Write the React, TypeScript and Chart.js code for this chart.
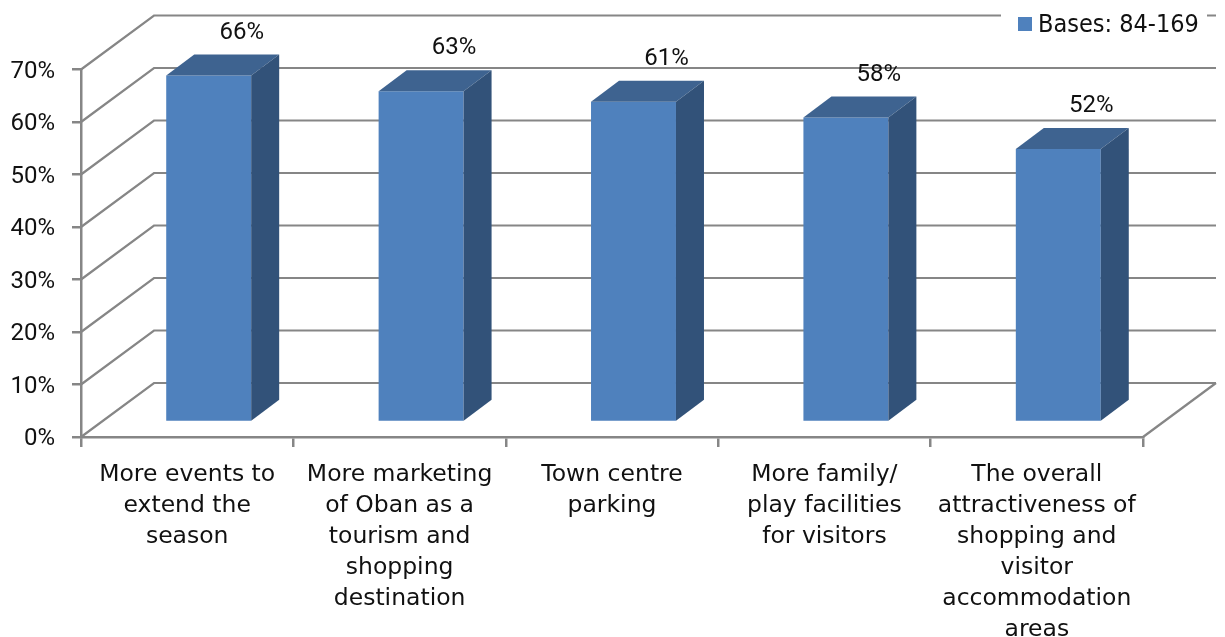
import React, { useEffect, useRef } from "react";
import { Chart, registerables } from "chart.js";

Chart.register(...registerables);

const categories: string[][] = [
  ["More events to", "extend the", "season"],
  ["More marketing", "of Oban as a", "tourism and", "shopping", "destination"],
  ["Town centre", "parking"],
  ["More family/", "play facilities", "for visitors"],
  ["The overall", "attractiveness of", "shopping and", "visitor", "accommodation", "areas"],
];
const shares: number[] = [66, 63, 61, 58, 52];
const seriesName = "Bases: 84-169";

const CATEGORY_FONT = '"DejaVu Sans", sans-serif';
const LEGEND_FONT = '"DejaVu Sans Condensed", "DejaVu Sans", sans-serif';
const NUMBER_FONT = 'Roboto, "DejaVu Sans", sans-serif';
const GRID = "#868686";
const FRONT = "#4f81bd";
const TOP = "#3e6390";
const SIDE = "#325279";
const INK = "#111111";

// Oblique offset of the back wall, and of a bar within the depth of the floor.
const WALL_DX = 73;
const WALL_DY = -54;
const BAR_DX = 21.5;
const BAR_DY = -15;
const BAR_DEPTH_DX = 28;
const BAR_DEPTH_DY = -21;

const obliquePlugin = {
  id: "oblique",
  afterUpdate(chart: any) {
    // Percent labels sit slightly below their tick marks
    chart.scales.y.getLabelItems().forEach((item: any) => {
      item.textOffset += 2;
    });
  },
  beforeDatasetsDraw(chart: any) {
    const { ctx, chartArea, scales } = chart;
    const { left, right, bottom } = chartArea;
    ctx.save();
    ctx.strokeStyle = GRID;
    ctx.lineWidth = 2.2;
    ctx.lineJoin = "miter";
    // Side wall slants and back wall rules, one per value tick
    for (const tick of scales.y.ticks) {
      const y = scales.y.getPixelForValue(tick.value);
      ctx.beginPath();
      ctx.moveTo(left, y);
      ctx.lineTo(left + WALL_DX, y + WALL_DY);
      ctx.lineTo(right + WALL_DX, y + WALL_DY);
      ctx.stroke();
    }
    // Right-hand edge of the floor
    ctx.beginPath();
    ctx.moveTo(right, bottom);
    ctx.lineTo(right + WALL_DX, bottom + WALL_DY);
    ctx.stroke();
    ctx.restore();

    // Bars stand part way back on the floor
    ctx.save();
    ctx.translate(BAR_DX, BAR_DY);
  },
  afterDatasetsDraw(chart: any) {
    const { ctx } = chart;
    const bars = chart.getDatasetMeta(0).data;
    bars.forEach((bar: any, i: number) => {
      const { x, y, base, width } = bar.getProps(["x", "y", "base", "width"], true);
      const l = x - width / 2;
      const r = x + width / 2;
      // Top face
      ctx.fillStyle = TOP;
      ctx.beginPath();
      ctx.moveTo(l, y);
      ctx.lineTo(l + BAR_DEPTH_DX, y + BAR_DEPTH_DY);
      ctx.lineTo(r + BAR_DEPTH_DX, y + BAR_DEPTH_DY);
      ctx.lineTo(r, y);
      ctx.closePath();
      ctx.fill();
      // Side face
      ctx.fillStyle = SIDE;
      ctx.beginPath();
      ctx.moveTo(r, y);
      ctx.lineTo(r + BAR_DEPTH_DX, y + BAR_DEPTH_DY);
      ctx.lineTo(r + BAR_DEPTH_DX, base + BAR_DEPTH_DY);
      ctx.lineTo(r, base);
      ctx.closePath();
      ctx.fill();
      // Value label above the bar
      ctx.fillStyle = INK;
      ctx.font = `24px ${NUMBER_FONT}`;
      ctx.textAlign = "center";
      ctx.textBaseline = "middle";
      ctx.fillText(`${shares[i]}%`, x + 33, y - 43);
    });
    ctx.restore();
  },
  afterDraw(chart: any) {
    const { ctx } = chart;
    ctx.save();
    // Legend box sits on top of the uppermost rule
    ctx.fillStyle = "#ffffff";
    ctx.fillRect(1001, 5, 206, 34);
    ctx.fillStyle = FRONT;
    ctx.fillRect(1018, 17, 14, 14);
    ctx.fillStyle = INK;
    ctx.font = `25px ${LEGEND_FONT}`;
    ctx.textAlign = "left";
    ctx.textBaseline = "middle";
    ctx.fillText(chart.data.datasets[0].label, 1038, 25);
    ctx.restore();
  },
};

export default function App() {
  const ref = useRef<HTMLCanvasElement>(null);

  useEffect(() => {
    const chart = new Chart(ref.current!, {
      type: "bar",
      data: {
        labels: categories,
        datasets: [
          {
            label: seriesName,
            data: shares,
            backgroundColor: FRONT,
            barPercentage: 0.4,
            categoryPercentage: 1,
            clip: false,
          } as any,
        ],
      },
      options: {
        responsive: false,
        animation: false,
        layout: { padding: { top: 69.5, right: 82, left: 0, bottom: 0 } },
        plugins: { legend: { display: false }, tooltip: { enabled: false } },
        scales: {
          x: {
            afterFit: (s: any) => {
              s.height = 200;
            },
            border: { color: GRID, width: 2.5 },
            grid: { drawOnChartArea: false, drawTicks: true, tickLength: 10, color: GRID, lineWidth: 2.5 },
            ticks: {
              color: INK,
              font: { family: CATEGORY_FONT, size: 23.5, lineHeight: 1.32 },
              padding: 12,
              maxRotation: 0,
              minRotation: 0,
              autoSkip: false,
            },
          },
          y: {
            min: 0,
            max: 70,
            afterFit: (s: any) => {
              s.width = 81;
            },
            border: { color: GRID, width: 2.5 },
            grid: { drawOnChartArea: false, drawTicks: true, tickLength: 9, color: GRID, lineWidth: 2.5 },
            ticks: {
              stepSize: 10,
              color: INK,
              font: { family: NUMBER_FONT, size: 24 },
              padding: 17,
              callback: (v: any) => `${v}%`,
            },
          },
        },
      },
      plugins: [obliquePlugin],
    });
    return () => chart.destroy();
  }, []);

  return (
    <canvas
      ref={ref}
      width={1225}
      height={637}
      style={{ position: "absolute", left: 0, top: 0, display: "block" }}
    />
  );
}
